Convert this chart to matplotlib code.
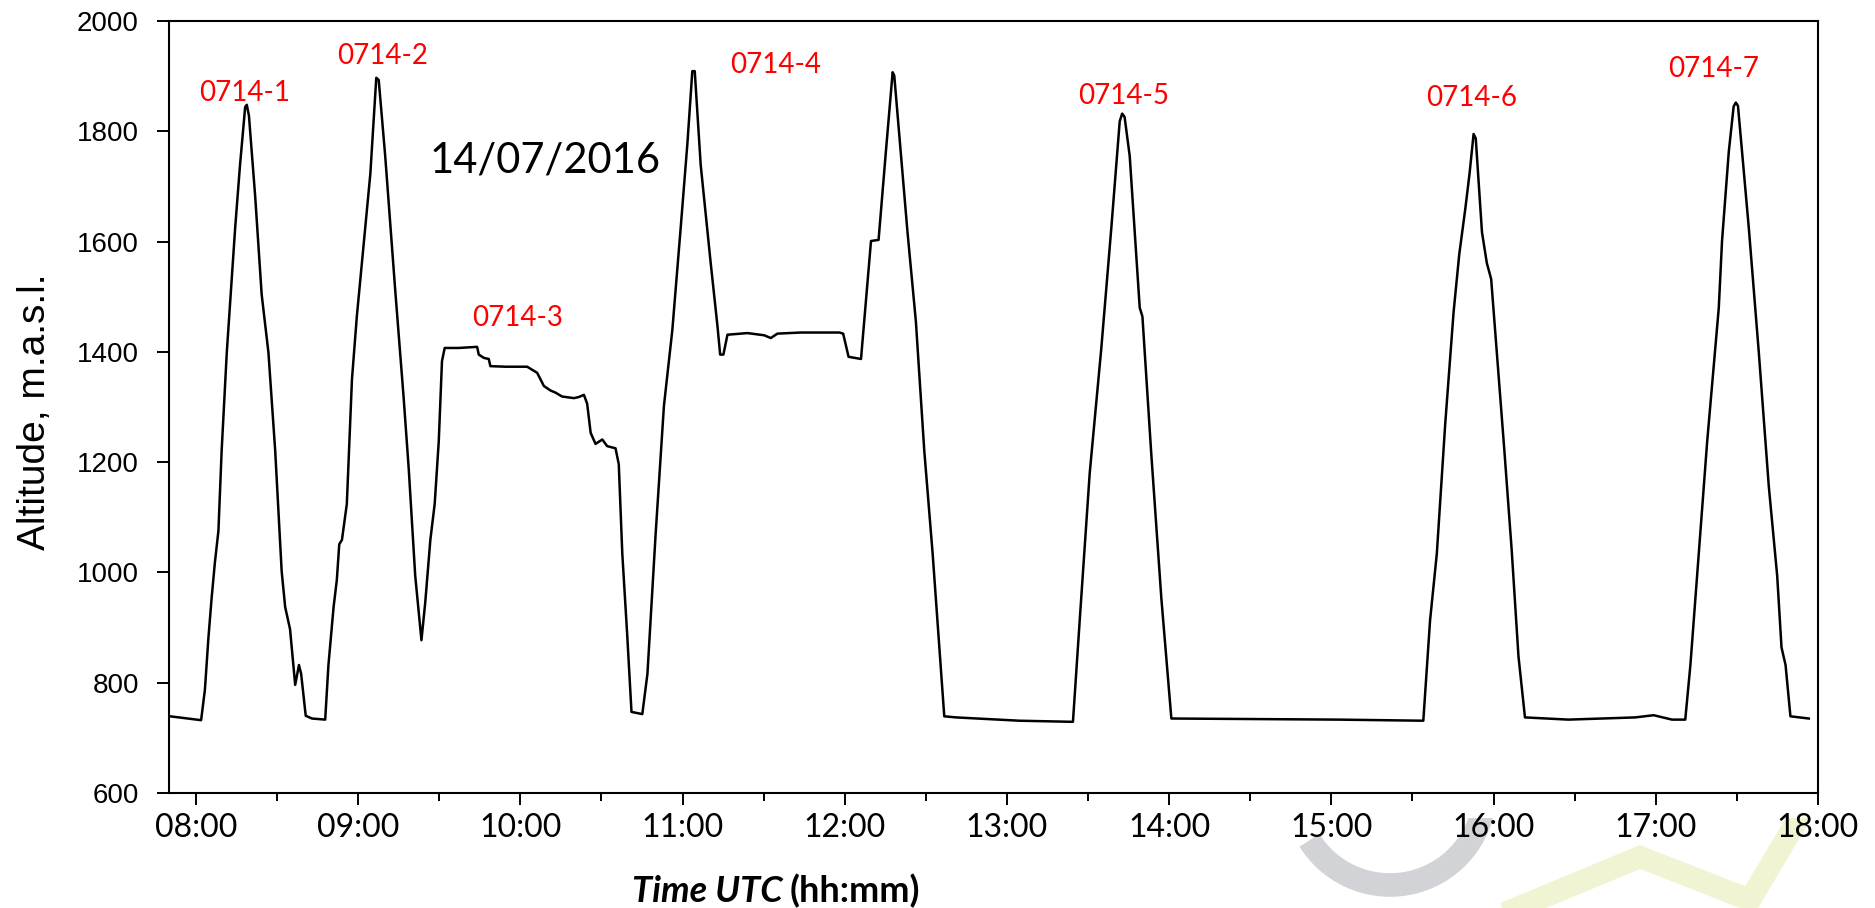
import matplotlib
matplotlib.use("Agg")
import matplotlib.pyplot as plt
from matplotlib.ticker import MultipleLocator, FuncFormatter
from matplotlib.patches import Arc, Rectangle
from matplotlib.lines import Line2D
from matplotlib.transforms import IdentityTransform
import numpy as np

# flight track 14/07/2016: minutes after 08:00 UTC and altitude (m a.s.l.)
minutes = [-9.6, 1.9, 3.3, 4.6, 5.8, 7.0, 8.3, 9.5, 11.4, 14.5, 16.3, 18.2, 18.8, 19.6,
           21.9, 24.3, 26.8, 29.3, 31.1, 31.7, 33.0, 34.8, 36.7, 38.1, 38.9, 40.6, 42.9, 47.8,
           49.0, 50.9, 52.1, 53.0, 54.0, 55.8, 57.7, 59.5, 62.6, 64.5, 66.7, 67.6, 70.0, 73.7,
           76.8, 78.7, 81.1, 83.4, 84.8, 86.7, 88.3, 89.8, 91.0, 92.0, 97.2, 104.0, 104.6,
           106.5, 108.3, 108.9, 114.5, 122.5, 126.2, 128.7, 131.1, 133.0, 135.4, 139.8, 141.6,
           143.5, 144.7, 146.0, 147.8, 150.3, 152.1, 155.2, 156.4, 157.7, 159.5, 161.1, 165.1,
           167.0, 170.0, 173.1, 176.2, 179.3, 181.8, 183.6, 184.5, 186.7, 190.4, 192.9, 193.9,
           195.1, 196.6, 204.0, 210.2, 212.6, 215.1, 223.7, 238.0, 239.4, 241.4, 246.0, 249.7,
           252.5, 255.2, 257.7, 258.3, 263.2, 266.3, 269.4, 272.5, 276.8, 281.2, 304.6, 324.4,
           326.9, 330.6, 334.9, 338.6, 341.7, 342.6, 343.5, 345.4, 349.1, 350.1, 353.4, 357.1,
           360.8, 422.6, 454.0, 456.5, 459.0, 462.1, 465.2, 467.3, 469.5, 471.1, 472.6, 473.4,
           475.7, 477.5, 479.1, 481.2, 484.0, 486.7, 489.2, 491.6, 507.7, 532.4, 539.2, 546.0,
           550.9, 552.8, 556.5, 559.0, 563.3, 564.5, 567.0, 568.8, 569.6, 570.4, 574.4, 578.1,
           581.8, 584.9, 586.5, 588.0, 589.8, 596.6]
altitude = [739, 732, 787, 881, 954, 1018, 1075, 1221, 1399, 1625, 1739, 1844, 1848, 1828,
            1682, 1504, 1399, 1221, 1059, 1002, 937, 897, 796, 832, 816, 740, 735, 733,
            832, 937, 986, 1051, 1059, 1124, 1350, 1464, 1625, 1723, 1897, 1893, 1755, 1512,
            1318, 1188, 994, 877, 945, 1059, 1124, 1237, 1383, 1407, 1407, 1409, 1395,
            1389, 1387, 1374, 1373, 1373, 1362, 1338, 1330, 1326, 1319, 1316, 1318,
            1322, 1306, 1253, 1233, 1241, 1229, 1225, 1196, 1034, 888, 747, 743,
            816, 1067, 1302, 1439, 1625, 1779, 1909, 1909, 1739, 1561, 1447, 1395,
            1395, 1431, 1434, 1430, 1425, 1433, 1435, 1435, 1433, 1391, 1387, 1601,
            1603, 1763, 1907, 1901, 1617, 1455, 1221, 1034, 739, 737, 731, 729,
            913, 1180, 1407, 1625, 1818, 1832, 1826, 1755, 1480, 1464, 1213, 953,
            735, 733, 731, 913, 1034, 1269, 1472, 1577, 1658, 1723, 1795, 1787,
            1617, 1561, 1532, 1399, 1220, 1040, 848, 737, 733, 737, 741, 733,
            733, 832, 1075, 1237, 1480, 1601, 1763, 1845, 1852, 1846, 1625, 1399,
            1156, 994, 864, 832, 739, 735]

flight_ids = ["0714-1", "0714-2", "0714-3", "0714-4", "0714-5", "0714-6", "0714-7"]
label_minutes = [18.1, 68.9, 118.9, 214.4, 343.3, 471.9, 561.5]
label_alt = [1869, 1937, 1461, 1921, 1864, 1860, 1913]

hours = 8 + np.array(minutes) / 60.0
label_hours = 8 + np.array(label_minutes) / 60.0

fig = plt.figure(figsize=(18.75, 9.08), dpi=100)
ax = fig.add_axes([0.0901, 0.1267, 0.8795, 0.8502])

# faint watermark behind the axis labels (bottom right)
clip = Rectangle((0, 0), 1875, 90, transform=IdentityTransform())
arc = Arc((1390, 118), 190, 190, theta1=212, theta2=345, lw=17, color="#d2d3d7",
          transform=IdentityTransform(), zorder=0)
zig = Line2D([1493, 1640, 1750, 1840], [-10, 51, 8, 160], lw=16, color="#f1f4d2",
             transform=IdentityTransform(), zorder=0, solid_joinstyle="miter")
for art in (arc, zig):
    fig.add_artist(art)
    art.set_clip_path(clip)

ax.plot(hours, altitude, color="black", lw=1.8)

for fid, lh, la in zip(flight_ids, label_hours, label_alt):
    ax.text(lh, la, fid, color="red", fontsize=20, family="Lato", ha="center", va="center")

ax.text(0.228, 0.8187, "14/07/2016", transform=ax.transAxes, fontsize=30, family="Lato",
        ha="center", va="center")

ax.set_xlim(8 - 10 / 60, 18)
ax.set_ylim(600, 2000)
ax.xaxis.set_major_locator(MultipleLocator(1))
ax.xaxis.set_minor_locator(MultipleLocator(0.5))
ax.xaxis.set_major_formatter(FuncFormatter(lambda v, p: f"{int(round(v)):02d}:00"))
ax.yaxis.set_major_locator(MultipleLocator(200))

ax.tick_params(axis="both", which="major", direction="out", length=8.6, width=1.4)
ax.tick_params(axis="x", which="minor", direction="out", length=6, width=1.4)
ax.tick_params(axis="y", which="major", pad=13)
ax.tick_params(axis="x", which="major", pad=6)
for lab in ax.get_yticklabels():
    lab.set_family("Liberation Sans")
    lab.set_fontsize(20)
for lab in ax.get_xticklabels():
    lab.set_family("Lato")
    lab.set_fontsize(23)
for s in ax.spines.values():
    s.set_linewidth(1.5)

fig.text(35 / 1875, 1 - 412 / 908, "Altitude, m.a.s.l.", rotation=90, fontsize=28,
         family="Liberation Sans", ha="center", va="center")

# x label: bold italic part + bold part, centred together
ty = 1 - 891 / 908
t1 = fig.text(0, ty, "Time UTC", fontsize=26, family="Lato",
              weight="bold", style="italic", ha="left", va="center")
t2 = fig.text(0, ty, "(hh:mm)", fontsize=26, family="Lato",
              weight="bold", ha="left", va="center")
fig.canvas.draw()
r = fig.canvas.get_renderer()
w1 = t1.get_window_extent(r).width
w2 = t2.get_window_extent(r).width
gap = 7
left = 776 - (w1 + gap + w2) / 2
t1.set_x(left / 1875)
t2.set_x((left + w1 + gap) / 1875)

fig.savefig("out.png", dpi=100)
